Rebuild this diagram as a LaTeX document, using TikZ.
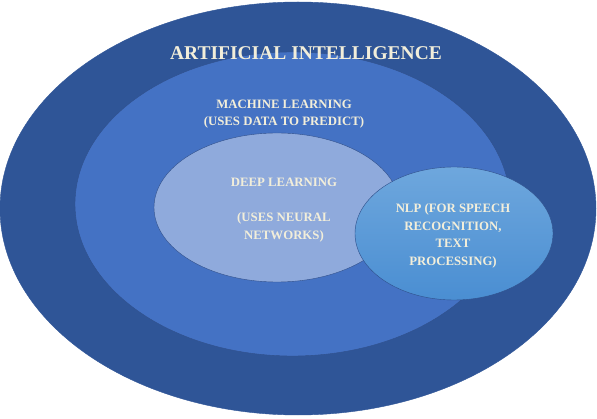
\documentclass[tikz,border=0pt]{standalone}
\usepackage{fontspec}
\setmainfont{Liberation Serif}
\usetikzlibrary{shapes.geometric}
\definecolor{aiblue}{HTML}{2F5597}
\definecolor{mlblue}{HTML}{4472C4}
\definecolor{dlblue}{HTML}{8FAADC}
\definecolor{nlptop}{HTML}{6EA7DD}
\definecolor{nlpbot}{HTML}{4A8ED2}
\definecolor{rimblue}{HTML}{2F4F8A}
\definecolor{cream}{HTML}{F2EEDA}

\begin{document}
\begin{tikzpicture}[x=1pt,y=-1pt,
  blob/.style={ellipse,inner sep=0pt,draw=rimblue,line width=0.4pt},
  txt/.style={text=cream,align=center,font=\bfseries\fontsize{12.8}{17.5}\selectfont}]

\useasboundingbox (0,0) rectangle (597,419);

\node[blob,draw=aiblue,fill=aiblue,minimum width=596pt,minimum height=413pt] (ai) at (298,208.5) {};
\node[blob,fill=mlblue,minimum width=435pt,minimum height=304pt] (ml) at (292.5,204) {};
\node[blob,fill=dlblue,minimum width=246pt,minimum height=149pt] (dl) at (277,207.5) {};
\node[blob,top color=nlptop,bottom color=nlpbot,minimum width=198pt,minimum height=133pt] (nlp) at (454,233.5) {};

\node[txt,font=\bfseries\fontsize{19.5}{22}\selectfont] (aitext) at (306,53) {ARTIFICIAL INTELLIGENCE};
\node[txt] (mltext) at (284,114) {MACHINE LEARNING\\(USES DATA TO PREDICT)};
\node[txt] (dltext) at (284,210) {DEEP LEARNING\\[17.5pt](USES NEURAL\\NETWORKS)};
\node[txt] (nlptext) at (453,236) {NLP (FOR SPEECH\\RECOGNITION,\\TEXT\\PROCESSING)};
\end{tikzpicture}
\end{document}
